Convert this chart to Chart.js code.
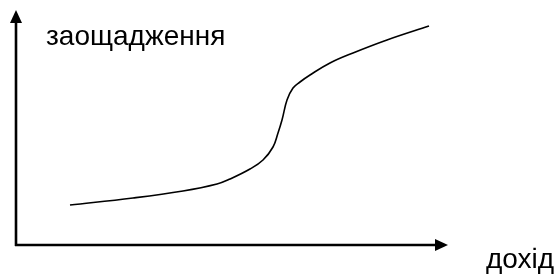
<!DOCTYPE html>
<html>
<head>
<meta charset="utf-8">
<script src="https://cdn.jsdelivr.net/npm/chart.js@4"></script>
<style>
  html, body { margin: 0; padding: 0; background: #fff; }
  #wrap { width: 555px; height: 277px; }
</style>
</head>
<body>
<div id="wrap"><canvas id="chart"></canvas></div>
<script>
// Curve (income -> savings), arbitrary units
const incomeValues = [54, 117, 167, 201, 214, 234, 247, 257, 262, 266, 271, 277, 284, 294, 314, 337, 371, 413];
const savingsValues = [40, 47, 54, 61, 66, 76, 85, 98, 112, 125, 145, 157, 163, 170, 182, 192, 205, 219];

const yAxisLabel = 'заощадження';
const xAxisLabel = 'дохід';

const X_MAX = 432;
const Y_MAX = 235;

// Axes with arrows + the two labels
const arrowAxesPlugin = {
  id: 'arrowAxes',
  afterDraw(chart) {
    const ctx = chart.ctx;
    const area = chart.chartArea;
    ctx.save();
    ctx.strokeStyle = '#000';
    ctx.fillStyle = '#000';
    ctx.lineWidth = 2.6;

    // y axis
    ctx.beginPath();
    ctx.moveTo(area.left, area.bottom + 1);
    ctx.lineTo(area.left, area.top + 10);
    ctx.stroke();
    ctx.beginPath();
    ctx.moveTo(area.left, area.top);
    ctx.lineTo(area.left - 6, area.top + 13);
    ctx.lineTo(area.left + 6, area.top + 13);
    ctx.closePath();
    ctx.fill();

    // x axis
    ctx.beginPath();
    ctx.moveTo(area.left - 1, area.bottom);
    ctx.lineTo(area.right - 10, area.bottom);
    ctx.stroke();
    ctx.beginPath();
    ctx.moveTo(area.right, area.bottom);
    ctx.lineTo(area.right - 13, area.bottom - 6);
    ctx.lineTo(area.right - 13, area.bottom + 6);
    ctx.closePath();
    ctx.fill();

    ctx.font = '28px "Liberation Sans", Arial, sans-serif';
    ctx.textBaseline = 'alphabetic';
    ctx.textAlign = 'left';
    ctx.fillText(yAxisLabel, area.left + 30, area.top + 35);
    ctx.fillText(xAxisLabel, area.right + 38, area.bottom + 23);
    ctx.restore();
  }
};

const canvas = document.getElementById('chart');
new Chart(canvas.getContext('2d'), {
  type: 'line',
  data: {
    datasets: [{
      data: incomeValues.map((x, i) => ({ x: x, y: savingsValues[i] })),
      borderColor: '#000',
      borderWidth: 1.6,
      pointRadius: 0,
      fill: false,
      tension: 0.4
    }]
  },
  options: {
    responsive: true,
    maintainAspectRatio: false,
    animation: false,
    layout: { padding: { left: 16, top: 10, right: 107, bottom: 32 } },
    scales: {
      x: { type: 'linear', min: 0, max: X_MAX, display: false },
      y: { type: 'linear', min: 0, max: Y_MAX, display: false }
    },
    plugins: {
      legend: { display: false },
      tooltip: { enabled: false }
    }
  },
  plugins: [arrowAxesPlugin]
});
</script>
</body>
</html>
